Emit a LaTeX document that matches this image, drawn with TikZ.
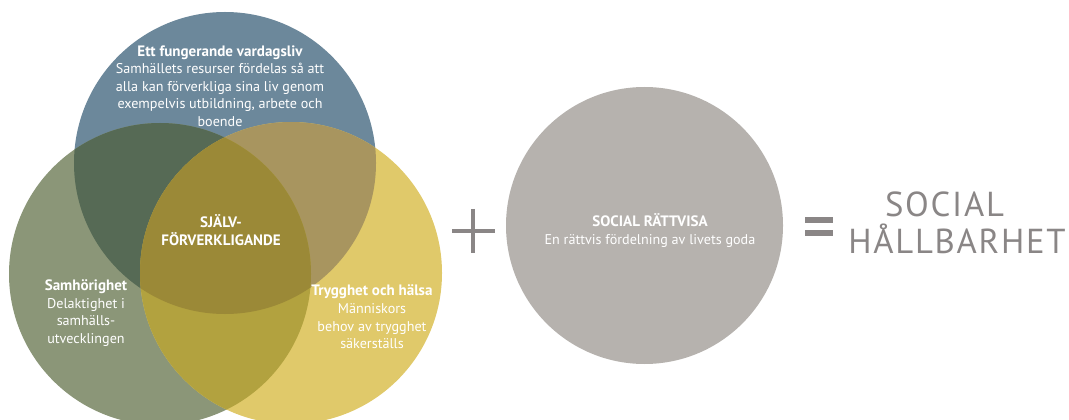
\documentclass[tikz,border=0pt]{standalone}
\usepackage{fontspec}
\setmainfont{PT Sans}
\newfontfamily\resultfont[LetterSpace=5]{PT Sans}
\usetikzlibrary{positioning}

\definecolor{vardagblue}{HTML}{6C889B}
\definecolor{samhorgreen}{HTML}{8B9678}
\definecolor{tryggyellow}{HTML}{E0C96A}
\definecolor{bluegreen}{HTML}{566A55}
\definecolor{blueyellow}{HTML}{A8955F}
\definecolor{greenyellow}{HTML}{B2A23F}
\definecolor{allthree}{HTML}{9B8937}
\definecolor{rattvisgrey}{HTML}{B6B2AE}
\definecolor{signgrey}{HTML}{8A8686}

\newcommand{\ringhead}[1]{{\bfseries\fontsize{11.3pt}{13.2pt}\selectfont #1}}

\begin{document}
\begin{tikzpicture}[x=0.75pt,y=-0.75pt]
        \tikzstyle{ring}=[circle,inner sep=0pt,minimum size=226.5pt]
        \tikzstyle{grey ring}=[circle,inner sep=0pt,minimum size=207.75pt,fill=rattvisgrey]
        \tikzstyle{ringtext}=[text=white,align=center,inner sep=0pt,font=\fontsize{10.6pt}{13.2pt}\selectfont]
        \tikzstyle{result}=[text=signgrey,anchor=base,inner sep=0pt,font=\resultfont\fontsize{26pt}{29pt}\selectfont]
        \tikzstyle{sign}=[draw=signgrey,line width=3pt]
        \def\rad{113.25pt}

        \useasboundingbox (0,0) rectangle (1069,420);

        % Draw the three Venn circles
        \node[ring,fill=vardagblue] (vardag) at (225,163) {};
        \node[ring,fill=samhorgreen] (samhor) at (160,274) {};
        \node[ring,fill=tryggyellow] (trygg) at (291,273) {};

        % Overlaps of two circles
        \foreach \first / \second / \col in {vardag/samhor/bluegreen, vardag/trygg/blueyellow, samhor/trygg/greenyellow}
        {
            \begin{scope}
                \clip (\first.center) circle (\rad);
                \fill[\col] (\second.center) circle (\rad);
            \end{scope}
        }

        % Overlap of all three
        \begin{scope}
            \clip (vardag.center) circle (\rad);
            \clip (samhor.center) circle (\rad);
            \fill[allthree] (trygg.center) circle (\rad);
        \end{scope}

        % Texts in the Venn circles
        \node[ringtext] (vardagtxt) at (220,86) {\ringhead{Ett fungerande vardagsliv}\\Samhällets resurser fördelas så att\\alla kan förverkliga sina liv genom\\exempelvis utbildning, arbete och\\boende};
        \node[ringtext] (samhortxt) at (86,313) {\ringhead{Samhörighet}\\Delaktighet i\\samhälls-\\utvecklingen};
        \node[ringtext] (tryggtxt) at (372,317) {\ringhead{Trygghet och hälsa}\\Människors\\behov av trygghet\\säkerställs};
        \node[ringtext,font=\bfseries\fontsize{11.3pt}{13.5pt}\selectfont] (sjalvtxt) at (221,230) {SJÄLV-\\FÖRVERKLIGANDE};

        % Plus sign
        \draw[sign] (452,231) -- (495,231);
        \draw[sign] (473,209) -- (473,253);

        % Social rattvisa
        \node[grey ring] (rattvisa) at (644.5,225.5) {};
        \node[ringtext] (rattvisatxt) at (650,230.5) {\ringhead{SOCIAL RÄTTVISA}\\En rättvis fördelning av livets goda};

        % Equals sign
        \fill[signgrey] (805,217) rectangle (833,223);
        \fill[signgrey] (805,229.5) rectangle (833,236);

        % Result
        \node[result] (social) at (944.5,217) {SOCIAL};
        \node[result] (hallbar) at (957,253) {HÅLLBARHET};
\end{tikzpicture}
\end{document}
